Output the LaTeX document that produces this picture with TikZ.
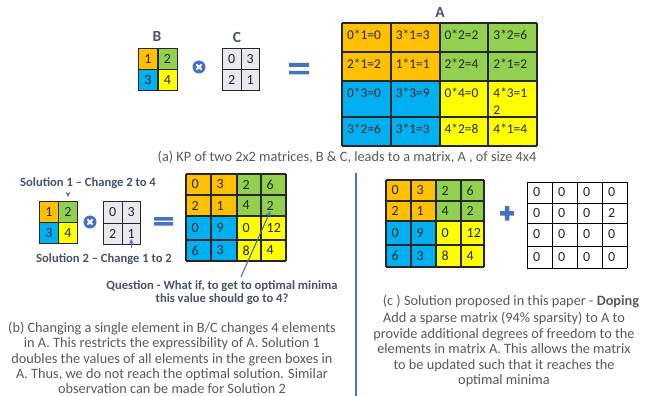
\documentclass[tikz,border=0pt]{standalone}
\usepackage{fontspec}
\setmainfont{Carlito}
\usetikzlibrary{arrows.meta}
\definecolor{kporange}{HTML}{FFC000}
\definecolor{kpgreen}{HTML}{92D050}
\definecolor{kpblue}{HTML}{00B0F0}
\definecolor{kpyellow}{HTML}{FFFF00}
\definecolor{kpgray}{HTML}{E8E8F0}
\definecolor{kpslate}{HTML}{44546A}
\definecolor{kptext}{HTML}{595959}
\definecolor{kpline}{HTML}{4472C4}
\tikzset{
  gridline/.style={draw=black!85, line width=1.2pt},
  sparseline/.style={draw=black, line width=0.9pt},
  smallcell/.style={draw=black!85, line width=1pt, inner sep=0pt, anchor=north west,
    minimum width=19pt, minimum height=21pt, font=\fontsize{14}{16}\selectfont, text=black!85},
  toptext/.style={anchor=north west, align=left, inner sep=0pt, font=\fontsize{13.4}{17}\selectfont, text=black!85},
  midtext/.style={anchor=west, inner sep=0pt, font=\fontsize{14}{16}\selectfont, text=black!85},
  mlabel/.style={font=\bfseries\fontsize{15.5}{17}\selectfont, text=kpslate},
  sollabel/.style={font=\bfseries\fontsize{12.6}{13.5}\selectfont, text=kpslate, align=center},
  caption/.style={align=center, text=kptext, font=\fontsize{14.3}{15.2}\selectfont},
  kparrow/.style={draw=kpline, line width=1.1pt, -{Stealth[length=5pt,width=4.5pt]}},
  kptimes/.style={circle, fill=kpline, minimum size=13pt, inner sep=0pt,
    path picture={\draw[white, line width=1.8pt]
      ([shift={(-2.6pt,-2.6pt)}]path picture bounding box.center) -- ([shift={(2.6pt,2.6pt)}]path picture bounding box.center)
      ([shift={(-2.6pt,2.6pt)}]path picture bounding box.center) -- ([shift={(2.6pt,-2.6pt)}]path picture bounding box.center);}}
}
\begin{document}
\begin{tikzpicture}[x=1pt, y=-1pt]
\useasboundingbox (0,0) rectangle (645,396);
% (a) B (x) C = A
\node[mlabel] (labB) at (157,36) {B};
\node[mlabel] (labC) at (237,37) {C};
\node[mlabel] (labA) at (440,12) {A};
\foreach \t/\c/\r/\f in {1/0/0/kporange, 2/1/0/kpgreen, 3/0/1/kpblue, 4/1/1/kpyellow}
  \node[smallcell, fill=\f] (Ba-\r-\c) at ({138+19.5*\c},{48+21*\r}) {\t};
\foreach \t/\c/\r in {0/0/0, 3/1/0, 2/0/1, 1/1/1}
  \node[smallcell, fill=kpgray, minimum width=18.5pt] (Ca-\r-\c) at ({222+18.5*\c},{48+21*\r}) {\t};
\node[kptimes] (opa) at (199,67) {};
\fill[kpline] (289,63) rectangle (309,67) (289,71) rectangle (309,74.5);
\fill[kporange] (342,23) rectangle (440,81);
\fill[kpgreen] (440,23) rectangle (537,81);
\fill[kpblue] (342,81) rectangle (440,146);
\fill[kpyellow] (440,81) rectangle (537,146);
\foreach \gx in {342,391,440,488,537} \draw[gridline] (\gx,23) -- (\gx,146);
\foreach \gy in {23,52,81,117,146} \draw[gridline] (342,\gy) -- (537,\gy);
\foreach \t [count=\i from 0] in {0*1=0,3*1=3,0*2=2,3*2=6,2*1=2,1*1=1,2*2=4,2*1=2,
    0*3=0,3*3=9,0*4=0,{4*3=1\\2},3*2=6,3*1=3,4*2=8,4*1=4}{
  \pgfmathtruncatemacro\c{mod(\i,4)}
  \pgfmathtruncatemacro\r{int(\i/4)}
  \pgfmathsetmacro\ry{{23,52,81,117}[\r]}
  \node[toptext] (Aa-\r-\c) at ({342+48.75*\c+5},{\ry+6.5}) {\t};
}
\node[caption] (capa) at (347,157) {(a) KP of two 2x2 matrices, B \& C, leads to a matrix, A , of size 4x4};
% (b) one change in B or C
\node[sollabel] (sol1) at (88,183) {Solution 1 – Change 2 to 4};
\foreach \t/\c/\r/\f in {1/0/0/kporange, 2/1/0/kpgreen, 3/0/1/kpblue, 4/1/1/kpyellow}
  \node[smallcell, fill=\f] (Bb-\r-\c) at ({39+19*\c},{201+21*\r}) {\t};
\foreach \t/\c/\r in {0/0/0, 3/1/0, 2/0/1, 1/1/1}
  \node[smallcell, fill=kpgray, minimum width=18.5pt, minimum height=21.5pt] (Cb-\r-\c) at ({103+18.5*\c},{201+21.5*\r}) {\t};
\node[kptimes] (opb) at (90,222) {};
\fill[kpline] (154,217) rectangle (173,220.5) (154,222) rectangle (173,225.5);
\node[sollabel] (sol2) at (104,259) {Solution 2 – Change 1 to 2};
\draw[kparrow] ([yshift=-1pt]sol1.south -| Bb-0-1.north) -- ([yshift=4pt]Bb-0-1.north);
\draw[kparrow] ([yshift=2pt]sol2.north -| Cb-1-1.south) -- ([yshift=6pt]Cb-1-1.south);
\fill[kporange] (186,174) rectangle (237,216);
\fill[kpgreen] (237,174) rectangle (286,216);
\fill[kpblue] (186,216) rectangle (237,261);
\fill[kpyellow] (237,216) rectangle (286,261);
\foreach \gx in {186,211,237,261,286} \draw[gridline] (\gx,174) -- (\gx,261);
\foreach \gy in {174,195,216,240,261} \draw[gridline] (186,\gy) -- (286,\gy);
\foreach \t [count=\i from 0] in {0,3,2,6,2,1,4,2,0,9,0,12,6,3,8,4}{
  \pgfmathtruncatemacro\c{mod(\i,4)}
  \pgfmathtruncatemacro\r{int(\i/4)}
  \pgfmathsetmacro\ry{{184.5,205.5,228,250.5}[\r]}
  \pgfmathsetmacro\rx{{186,211,237,261}[\c]}
  \node[midtext] (Ab-\r-\c) at ({\rx+5.5},\ry) {\t};
}
\node[sollabel] (quest) at (222,292.5) {Question - What if, to get to optimal minima\\this value should go to 4?};
\draw[kparrow] ([xshift=19pt]quest.north) -- ([yshift=-1pt]Ab-1-3.south);
\node[caption] (capb) at (172,358) {(b) Changing a single element in B/C changes 4 elements\\in A. This restricts the expressibility of A. Solution 1\\doubles the values of all elements in the green boxes in\\A. Thus, we do not reach the optimal solution. Similar\\observation can be made for Solution 2};
% (c) doping
\draw[kpline, line width=1.2pt] (356,173) -- (356,396);
\fill[kporange] (386,180) rectangle (436,221);
\fill[kpgreen] (436,180) rectangle (484,221);
\fill[kpblue] (386,221) rectangle (436,267);
\fill[kpyellow] (436,221) rectangle (484,267);
\foreach \gx in {386,411,436,461,484} \draw[gridline] (\gx,180) -- (\gx,267);
\foreach \gy in {180,201,221,245,267} \draw[gridline] (386,\gy) -- (484,\gy);
\foreach \t [count=\i from 0] in {0,3,2,6,2,1,4,2,0,9,0,12,6,3,8,4}{
  \pgfmathtruncatemacro\c{mod(\i,4)}
  \pgfmathtruncatemacro\r{int(\i/4)}
  \pgfmathsetmacro\ry{{190.5,211,233,256}[\r]}
  \pgfmathsetmacro\rx{{386,411,436,461}[\c]}
  \node[midtext] (Ac-\r-\c) at ({\rx+5.5},\ry) {\t};
}
\fill[kpline] (500,211) rectangle (514,215.5) (504.8,206) rectangle (509.3,220.5);
\foreach \gx in {527,552,577,602,627} \draw[sparseline] (\gx,182) -- (\gx,268);
\foreach \gy in {182,203,223,246,268} \draw[sparseline] (527,\gy) -- (627,\gy);
\foreach \t [count=\i from 0] in {0,0,0,0,0,0,0,2,0,0,0,0,0,0,0,0}{
  \pgfmathtruncatemacro\c{mod(\i,4)}
  \pgfmathtruncatemacro\r{int(\i/4)}
  \pgfmathsetmacro\ry{{192.5,213,234.5,257}[\r]}
  \node[midtext] (Dc-\r-\c) at ({527+25*\c+6},\ry) {\t};
}
\node[caption] (capc) at (511,301) {(c ) Solution proposed in this paper - \textbf{Doping}};
\node[caption, font=\fontsize{14.3}{15.5}\selectfont] (capcbody) at (504,349.5) {Add a sparse matrix (94\% sparsity) to A to\\provide additional degrees of freedom to the\\elements in matrix A. This allows the matrix\\to be updated such that it reaches the\\optimal minima};
\end{tikzpicture}
\end{document}
